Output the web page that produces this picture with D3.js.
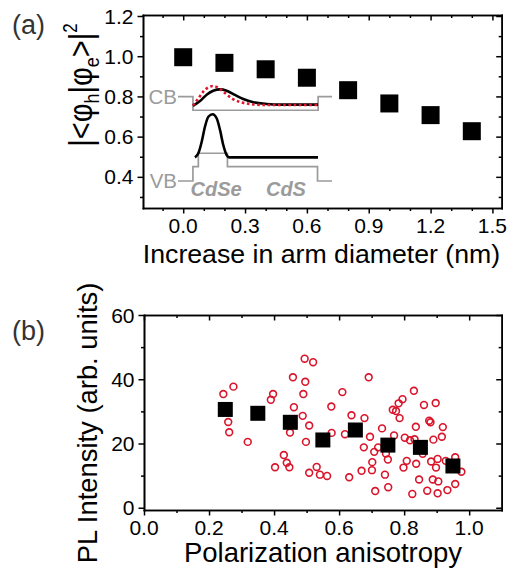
<!DOCTYPE html>
<html>
<head>
<meta charset="utf-8">
<script src="https://cdn.jsdelivr.net/npm/d3@7"></script>
<style>
  body { margin: 0; background: #fff; }
  svg { display: block; }
</style>
</head>
<body>
<svg id="fig" width="515" height="576"></svg>
<script>
// ---------- Panel (a): electron-hole overlap vs. arm diameter increase ----------
const armIncrease = [0.0, 0.2, 0.4, 0.6, 0.8, 1.0, 1.2, 1.4];
const overlapSq   = [0.995, 0.967, 0.935, 0.893, 0.831, 0.765, 0.707, 0.627];
const armMajor    = [0.0, 0.3, 0.6, 0.9, 1.2, 1.5];
const armMinor    = [-0.1, 0.1, 0.2, 0.4, 0.5, 0.7, 0.8, 1.0, 1.1, 1.3, 1.4];
const overlapMajor = [0.4, 0.6, 0.8, 1.0, 1.2];
const overlapMinor = [0.3, 0.5, 0.7, 0.9, 1.1];

// Inset band diagram, schematic units (position along the rod, energy)
const cbEdge = [[0, 84.8], [9.7, 84.8], [9.7, 72.5], [91, 72.5], [91, 84.8], [100, 84.8]];
const vbEdge = [[0, 8.2], [9.7, 8.2], [9.7, 21.2], [13.2, 21.2], [13.2, 33.4], [32.1, 33.4],
                [32.1, 21.2], [90.6, 21.2], [90.6, 8.2], [100, 8.2]];
const electronWave = [[9.7, 76.4], [14.3, 80.8], [18.8, 86.9], [22.9, 90.3], [27.3, 91.5], [31.6, 90.3],
                      [37.0, 86.4], [42.4, 82.7], [48.9, 79.8], [57.6, 78.2], [66.2, 77.6], [90.9, 77.6]];
const electronWaveAlt = [[9.7, 76.8], [13.0, 82.7], [16.2, 89.1], [19.5, 93.2], [22.7, 94.5], [26.0, 93.2],
                         [30.5, 88.2], [35.1, 83.2], [40.3, 80.0], [46.8, 78.2], [56.5, 77.3], [90.9, 77.3]];
const holeWave = [[11.0, 29.7], [13.2, 33.4], [15.4, 43.9], [17.5, 57.5], [19.7, 66.6], [22.5, 68.8],
                  [25.1, 65.2], [27.3, 54.5], [29.4, 40.9], [31.6, 31.8], [33.3, 29.7], [90.9, 29.7]];

// ---------- Panel (b): PL intensity vs. polarization anisotropy ----------
const anisBins = [0.25, 0.35, 0.45, 0.55, 0.65, 0.75, 0.85, 0.95];
const meanPL   = [30.6, 29.4, 26.6, 21.1, 24.2, 19.5, 18.8, 13.0];
const singleAnis = [0.275, 0.244, 0.259, 0.262, 0.319, 0.397, 0.390, 0.458, 0.461, 0.488, 0.449, 0.430,
  0.439, 0.447, 0.403, 0.494, 0.520, 0.496, 0.490, 0.508, 0.498, 0.576, 0.610, 0.691, 0.577, 0.531,
  0.508, 0.541, 0.563, 0.631, 0.638, 0.678, 0.618, 0.695, 0.732, 0.676, 0.765, 0.708, 0.720, 0.750,
  0.702, 0.669, 0.701, 0.741, 0.711, 0.751, 0.744, 0.769, 0.830, 0.795, 0.783, 0.775, 0.786, 0.861,
  0.897, 0.877, 0.881, 0.836, 0.919, 0.802, 0.818, 0.832, 0.890, 0.916, 0.857, 0.808, 0.837, 0.883,
  0.903, 0.898, 0.798, 0.928, 0.957, 0.976, 0.846, 0.888, 0.905, 0.957, 0.933, 0.903, 0.871, 0.825];
const singlePL = [37.7, 35.4, 26.7, 23.5, 20.5, 35.4, 33.6, 40.6, 31.3, 28.6, 23.4, 16.4,
  14.0, 12.6, 12.6, 46.4, 45.3, 39.2, 35.4, 25.6, 20.5, 31.5, 36.0, 40.6, 23.3, 12.7,
  10.9, 10.3, 9.9, 9.5, 28.8, 27.9, 22.9, 22.1, 24.7, 18.8, 30.5, 17.4, 18.8, 15.0,
  14.2, 11.5, 11.7, 10.3, 5.2, 6.4, 16.9, 22.5, 36.4, 33.8, 32.5, 30.1, 27.9, 32.0,
  32.6, 27.1, 26.6, 25.2, 25.1, 21.8, 21.0, 21.3, 21.2, 22.1, 16.8, 14.6, 13.7, 14.4,
  15.2, 12.5, 12.5, 14.6, 15.7, 11.2, 8.8, 8.8, 8.2, 7.4, 5.5, 4.5, 5.3, 4.3];
const anisMajor = [0.0, 0.2, 0.4, 0.6, 0.8, 1.0];
const anisMinor = [0.1, 0.3, 0.5, 0.7, 0.9];
const plMajor = [0, 20, 40, 60];
const plMinor = [10, 30, 50];

// ---------- helpers ----------
const FONT = "'Liberation Sans', Arial, Helvetica, sans-serif";
const svg = d3.select("#fig");

function label(g, x, y, str, o = {}) {
  const t = g.append("text")
    .attr("transform", `translate(${x},${y}) scale(${o.sx ?? 1},1)` + (o.rotate ? ` rotate(${o.rotate})` : ""))
    .attr("text-anchor", o.anchor || "middle")
    .attr("font-family", FONT)
    .attr("font-size", o.size || 18)
    .attr("fill", o.fill || "#000");
  if (o.weight) t.attr("font-weight", o.weight);
  if (o.italic) t.attr("font-style", "italic");
  if (str != null) t.text(str);
  return t;
}

// Box frame: outward ticks on bottom/left, inward mirror ticks on top/right
function frame(g, x, y, s) {
  const [yb, yt] = y.range();
  const [xl, xr] = x.range();
  const ax = (axis, vals, size) => axis.tickValues(vals).tickSize(size).tickSizeOuter(0).tickFormat("");
  const put = (axis, tx, ty) => g.append("g").attr("transform", `translate(${tx},${ty})`).call(axis);
  put(ax(d3.axisBottom(x), s.xMinor, 3), 0, yb);
  put(ax(d3.axisBottom(x), s.xMajor, 5.5), 0, yb);
  put(ax(d3.axisTop(x), s.xMinor, -3), 0, yt);
  put(ax(d3.axisTop(x), s.xMajor, -5.5), 0, yt);
  put(ax(d3.axisLeft(y), s.yMinor, 3), xl, 0);
  put(ax(d3.axisLeft(y), s.yMajor, 5.5), xl, 0);
  put(ax(d3.axisRight(y), s.yMinor, -3), xr, 0);
  put(ax(d3.axisRight(y), s.yMajor, -5.5), xr, 0);
  g.selectAll("path.domain").attr("stroke", "#000").attr("stroke-width", 1.6).attr("stroke-linecap", "square");
  g.selectAll(".tick line").attr("stroke", "#000").attr("stroke-width", 1.5);

  s.xMajor.forEach(v => label(g, x(v), yb + s.xLabelDy, s.xFmt(v), { size: 21 }));
  s.yMajor.forEach(v => label(g, xl - 9.5, y(v) + 7.5, s.yFmt(v), { size: 21, anchor: "end" }));
}

// ================= Panel (a) =================
const ga = svg.append("g");
const xa = d3.scaleLinear().domain([-0.195, 1.545]).range([143, 501.7]);
const ya = d3.scaleLinear().domain([0.245, 1.205]).range([208, 15]);

// inset: band-edge schematic with carrier wavefunctions
const ix = d3.scaleLinear().domain([0, 100]).range([178, 332]);
const iy = d3.scaleLinear().domain([0, 100]).range([190, 80]);
const band = d3.line().x(d => ix(d[0])).y(d => iy(d[1]));
const wave = d3.line().x(d => ix(d[0])).y(d => iy(d[1])).curve(d3.curveMonotoneX);
const grey = "#9b9b9b";

ga.append("path").attr("d", band(cbEdge)).attr("fill", "none").attr("stroke", grey).attr("stroke-width", 1.7);
ga.append("path").attr("d", band(vbEdge)).attr("fill", "none").attr("stroke", grey).attr("stroke-width", 1.7);
ga.append("path").attr("d", wave(electronWave)).attr("fill", "none").attr("stroke", "#000").attr("stroke-width", 2.6);
ga.append("path").attr("d", wave(electronWaveAlt)).attr("fill", "none").attr("stroke", "#e0142c")
  .attr("stroke-width", 2.6).attr("stroke-dasharray", "2.6,2.6");
ga.append("path").attr("d", wave(holeWave)).attr("fill", "none").attr("stroke", "#000").attr("stroke-width", 2.6);

label(ga, ix(0) - 1, iy(84.8) + 7.3, "CB", { size: 20.5, anchor: "end", fill: grey });
label(ga, ix(0) - 1, iy(8.2) + 7.3, "VB", { size: 20.5, anchor: "end", fill: grey });
label(ga, ix(24.7), iy(-5.5), "CdSe", { size: 20, weight: "bold", italic: true, fill: grey });
label(ga, ix(70.1), iy(-5.5), "CdS", { size: 20, weight: "bold", italic: true, fill: grey });

// data squares
const sqA = 18;
ga.selectAll("rect.sq").data(armIncrease).join("rect").attr("class", "sq")
  .attr("x", (d) => xa(d) - sqA / 2).attr("y", (d, i) => ya(overlapSq[i]) - sqA / 2)
  .attr("width", sqA).attr("height", sqA).attr("fill", "#000");

frame(ga, xa, ya, {
  xMajor: armMajor, xMinor: armMinor, yMajor: overlapMajor, yMinor: overlapMinor,
  xFmt: d3.format(".1f"), yFmt: d3.format(".1f"), xLabelDy: 24.5
});

label(ga, 321.5, 263, "Increase in arm diameter (nm)", { size: 26.7 });

// y title: |<φh|φe>|²
const yt = label(ga, 92, 85, null, { size: 29, sx: 1.15, rotate: -90 });
yt.append("tspan").text("|<φ");
yt.append("tspan").attr("font-size", 18).attr("dy", 6).text("h");
yt.append("tspan").attr("dy", -6).text("|φ");
yt.append("tspan").attr("font-size", 18).attr("dy", 6).text("e");
yt.append("tspan").attr("dy", -6).text(">|");
yt.append("tspan").attr("font-size", 17).attr("dy", -13).text("2");

label(ga, 12, 34, "(a)", { size: 27, anchor: "start", fill: "#333" });

// ================= Panel (b) =================
const gb = svg.append("g");
const xb = d3.scaleLinear().domain([0, 1.1]).range([144, 501.7]);
const yb = d3.scaleLinear().domain([-0.7, 60]).range([510, 315]);

gb.selectAll("circle.pt").data(singleAnis).join("circle").attr("class", "pt")
  .attr("cx", d => xb(d)).attr("cy", (d, i) => yb(singlePL[i])).attr("r", 3.4)
  .attr("fill", "none").attr("stroke", "#d9152b").attr("stroke-width", 1.6);

const sqB = 15;
gb.selectAll("rect.sq").data(anisBins).join("rect").attr("class", "sq")
  .attr("x", d => xb(d) - sqB / 2).attr("y", (d, i) => yb(meanPL[i]) - sqB / 2)
  .attr("width", sqB).attr("height", sqB).attr("fill", "#000");

frame(gb, xb, yb, {
  xMajor: anisMajor, xMinor: anisMinor, yMajor: plMajor, yMinor: plMinor,
  xFmt: d3.format(".1f"), yFmt: d3.format("d"), xLabelDy: 25
});

label(gb, 323, 562, "Polarization anisotropy", { size: 27.5 });
label(gb, 97, 423, "PL Intensity (arb. units)", { size: 27.4, rotate: -90 });
label(gb, 12, 340, "(b)", { size: 27, anchor: "start", fill: "#333" });
</script>
</body>
</html>
